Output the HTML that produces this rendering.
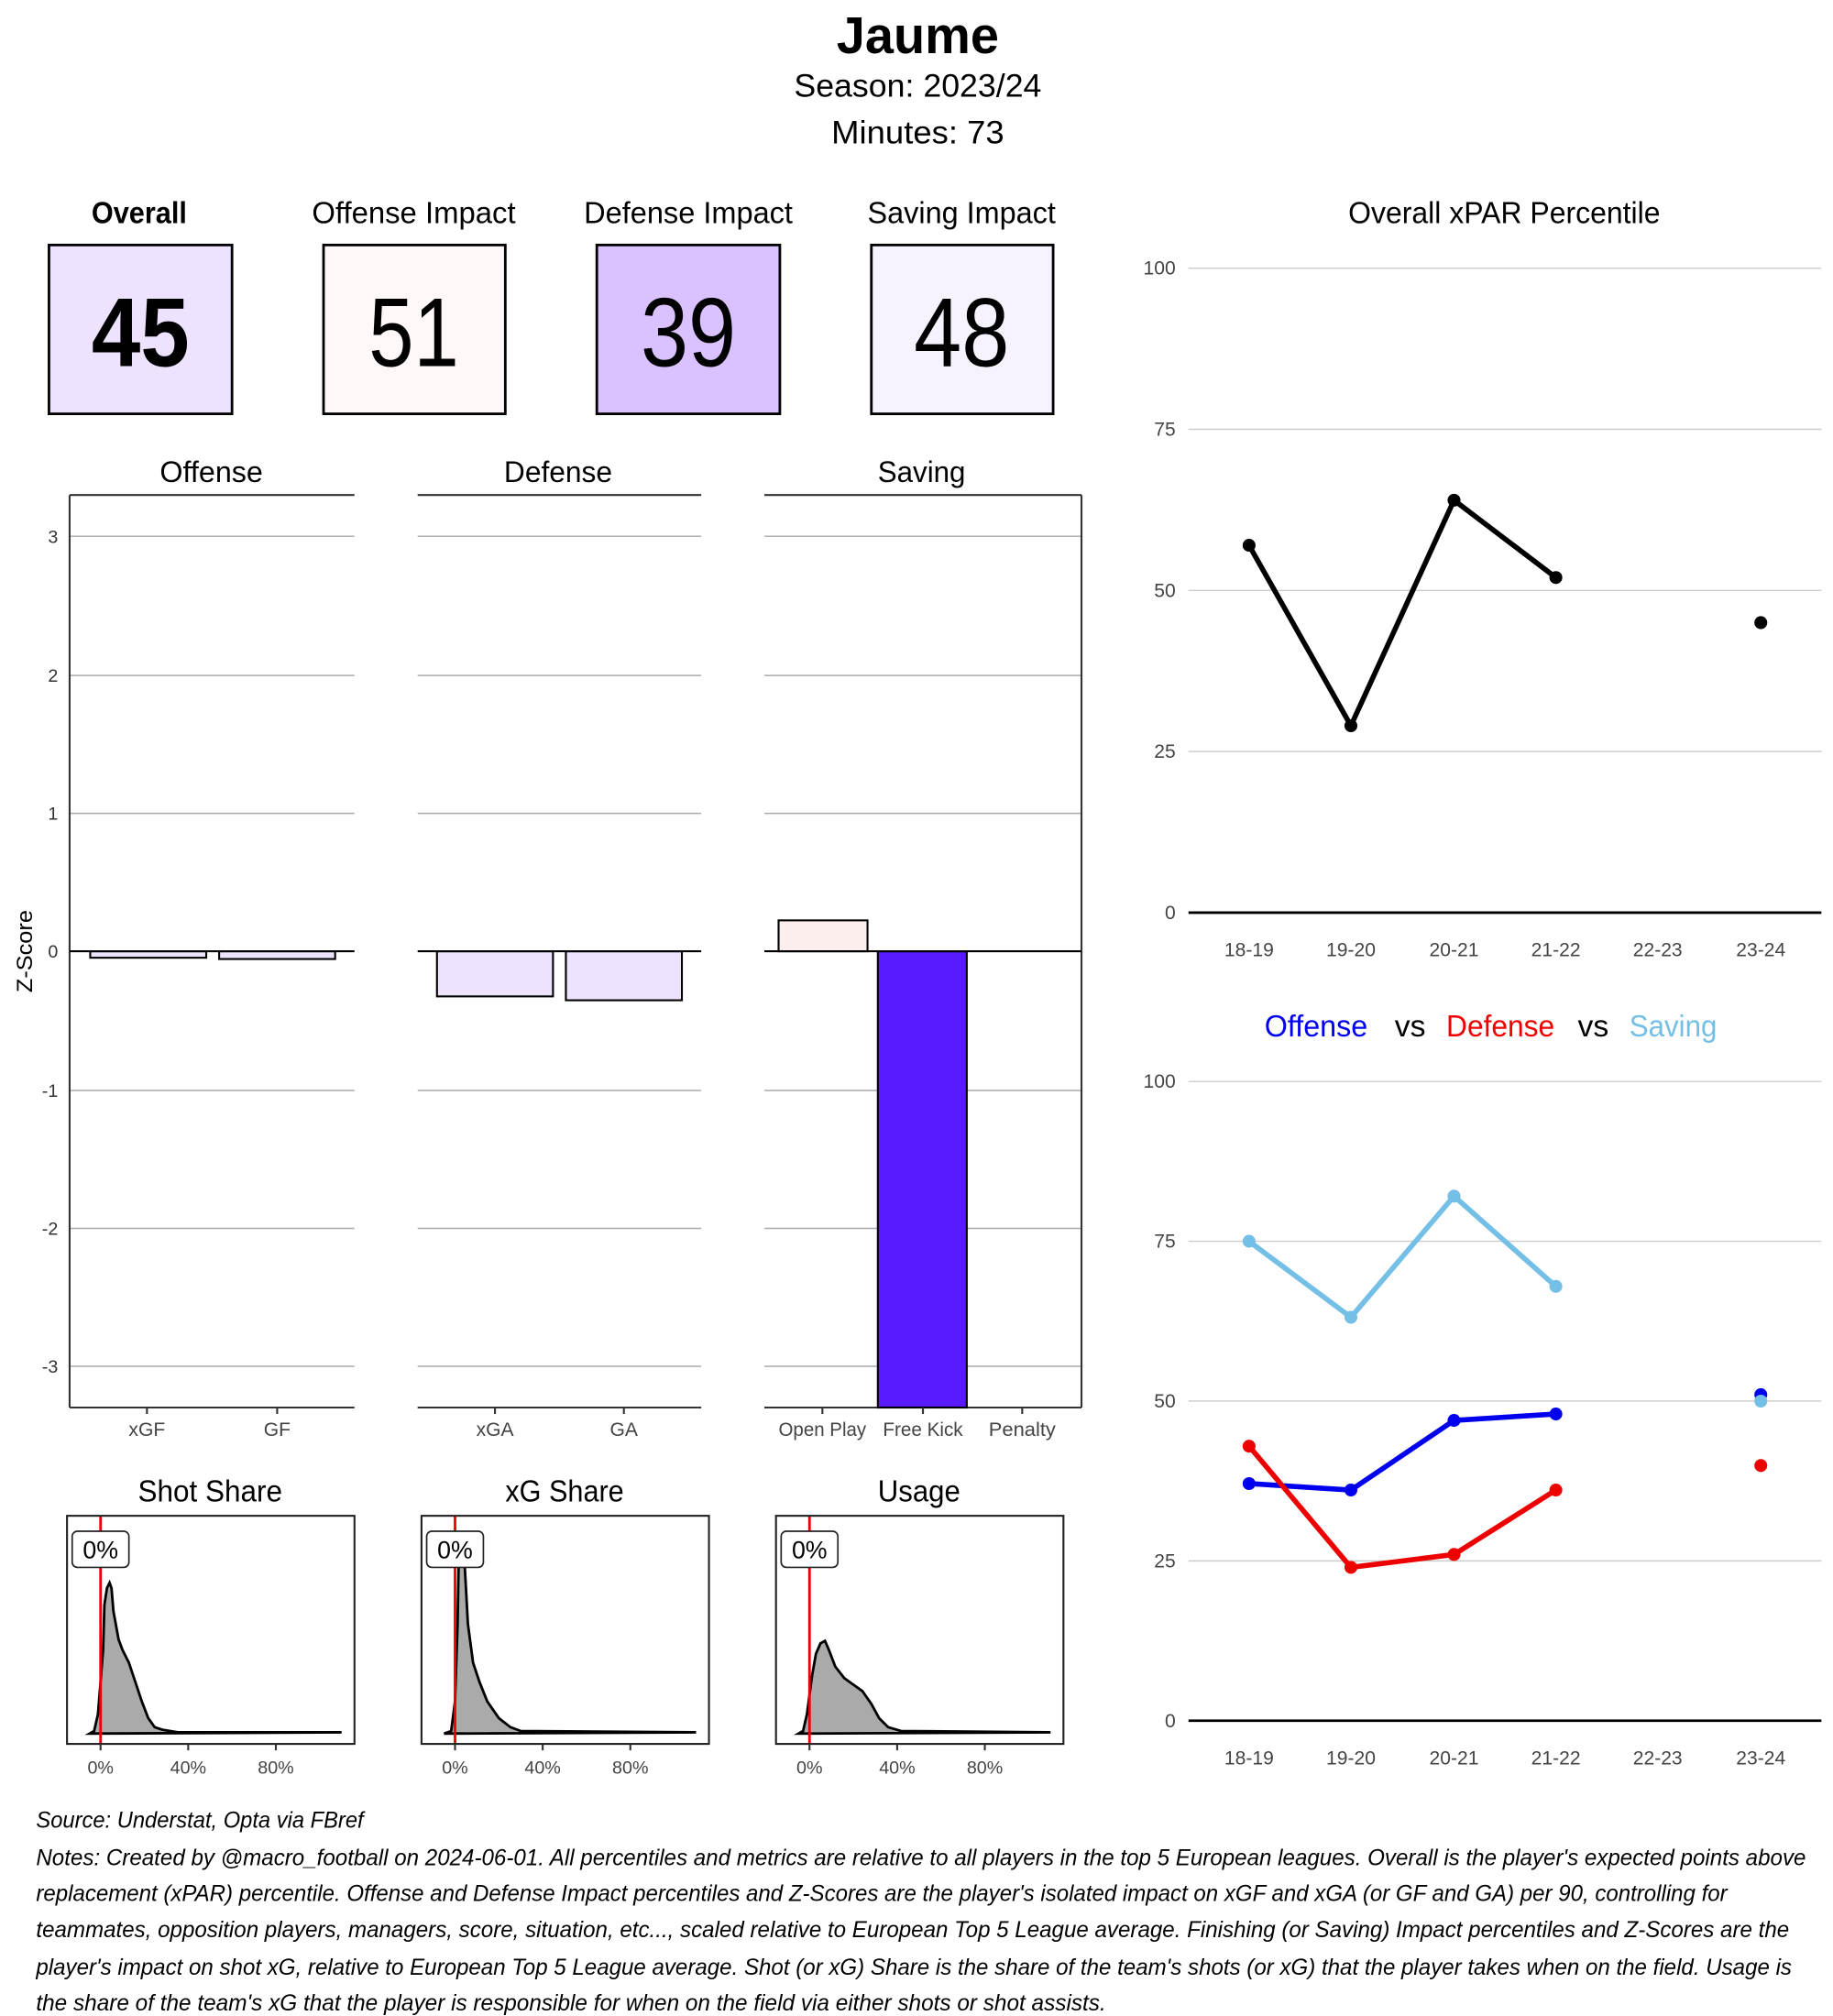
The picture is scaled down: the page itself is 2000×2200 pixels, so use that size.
<!DOCTYPE html>
<html><head><meta charset="utf-8"><style>
html,body{margin:0;padding:0;background:#fff;}
svg{display:block;font-family:"Liberation Sans",sans-serif;}
</style></head><body>
<svg width="2000" height="2200" viewBox="0 0 1422 1564" xmlns="http://www.w3.org/2000/svg">
<rect width="1422" height="1564" fill="#fff"/>
<text x="712" y="41" text-anchor="middle" font-size="40" font-weight="bold" textLength="126" lengthAdjust="spacingAndGlyphs">Jaume</text>
<text x="712" y="75" text-anchor="middle" font-size="25" textLength="192" lengthAdjust="spacingAndGlyphs">Season:  2023/24</text>
<text x="712" y="111" text-anchor="middle" font-size="25" textLength="134" lengthAdjust="spacingAndGlyphs">Minutes:  73</text>
<g font-size="24">
<text x="108" y="173" text-anchor="middle" font-weight="bold" textLength="74" lengthAdjust="spacingAndGlyphs">Overall</text>
<text x="321" y="173" text-anchor="middle" textLength="158" lengthAdjust="spacingAndGlyphs">Offense Impact</text>
<text x="534" y="173" text-anchor="middle" textLength="162" lengthAdjust="spacingAndGlyphs">Defense Impact</text>
<text x="746" y="173" text-anchor="middle" textLength="146" lengthAdjust="spacingAndGlyphs">Saving Impact</text>
</g>
<g stroke="#000" stroke-width="2">
<rect x="38" y="190" width="142" height="131" fill="#ede3ff"/>
<rect x="251" y="190" width="141" height="131" fill="#fff8f8"/>
<rect x="463" y="190" width="142" height="131" fill="#d9c2ff"/>
<rect x="676" y="190" width="141" height="131" fill="#f6f3ff"/>
</g>
<g font-size="76" text-anchor="middle">
<text x="109" y="284" font-weight="bold" textLength="76" lengthAdjust="spacingAndGlyphs">45</text>
<text x="321" y="284" textLength="70" lengthAdjust="spacingAndGlyphs">51</text>
<text x="534" y="284" textLength="74" lengthAdjust="spacingAndGlyphs">39</text>
<text x="746" y="284" textLength="74" lengthAdjust="spacingAndGlyphs">48</text>
</g>
<g font-size="23" text-anchor="middle">
<text x="164" y="374" textLength="80" lengthAdjust="spacingAndGlyphs">Offense</text>
<text x="433" y="374" textLength="84" lengthAdjust="spacingAndGlyphs">Defense</text>
<text x="715" y="374" textLength="68" lengthAdjust="spacingAndGlyphs">Saving</text>
</g>
<g stroke="#aaa" stroke-width="1">
<line x1="54" x2="275" y1="416" y2="416"/><line x1="324" x2="544" y1="416" y2="416"/><line x1="593" x2="839" y1="416" y2="416"/>
<line x1="54" x2="275" y1="524" y2="524"/><line x1="324" x2="544" y1="524" y2="524"/><line x1="593" x2="839" y1="524" y2="524"/>
<line x1="54" x2="275" y1="631" y2="631"/><line x1="324" x2="544" y1="631" y2="631"/><line x1="593" x2="839" y1="631" y2="631"/>
<line x1="54" x2="275" y1="846" y2="846"/><line x1="324" x2="544" y1="846" y2="846"/><line x1="593" x2="839" y1="846" y2="846"/>
<line x1="54" x2="275" y1="953" y2="953"/><line x1="324" x2="544" y1="953" y2="953"/><line x1="593" x2="839" y1="953" y2="953"/>
<line x1="54" x2="275" y1="1060" y2="1060"/><line x1="324" x2="544" y1="1060" y2="1060"/><line x1="593" x2="839" y1="1060" y2="1060"/>
</g>
<g stroke="#333" stroke-width="1.5">
<line x1="54" x2="275" y1="384" y2="384"/><line x1="324" x2="544" y1="384" y2="384"/><line x1="593" x2="839" y1="384" y2="384"/>
<line x1="54" x2="275" y1="1092" y2="1092"/><line x1="324" x2="544" y1="1092" y2="1092"/><line x1="593" x2="839" y1="1092" y2="1092"/>
<line x1="54" x2="54" y1="384" y2="1092"/><line x1="839" x2="839" y1="384" y2="1092"/>
</g>
<g stroke="#000" stroke-width="1.5">
<rect x="70" y="738" width="90" height="5" fill="#ede3ff"/>
<rect x="170" y="738" width="90" height="6" fill="#ede3ff"/>
<rect x="339" y="738" width="90" height="35" fill="#ede3ff"/>
<rect x="439" y="738" width="90" height="38" fill="#ede3ff"/>
<rect x="604" y="714" width="69" height="24" fill="#fdeeee"/>
<rect x="681" y="738" width="69" height="354" fill="#5a1aff"/>
</g>
<g stroke="#000" stroke-width="1.5">
<line x1="54" x2="275" y1="738" y2="738"/><line x1="324" x2="544" y1="738" y2="738"/><line x1="593" x2="839" y1="738" y2="738"/>
</g>
<g font-size="14" fill="#333" text-anchor="end">
<text x="45" y="421">3</text><text x="45" y="529">2</text><text x="45" y="636">1</text><text x="45" y="743">0</text>
<text x="45" y="851">-1</text><text x="45" y="958">-2</text><text x="45" y="1065">-3</text>
</g>
<text transform="translate(25,738) rotate(-90)" text-anchor="middle" font-size="17" textLength="64" lengthAdjust="spacingAndGlyphs">Z-Score</text>
<g stroke="#333" stroke-width="1.5">
<line x1="114" x2="114" y1="1092" y2="1097"/><line x1="215" x2="215" y1="1092" y2="1097"/>
<line x1="384" x2="384" y1="1092" y2="1097"/><line x1="484" x2="484" y1="1092" y2="1097"/>
<line x1="638" x2="638" y1="1092" y2="1097"/><line x1="716" x2="716" y1="1092" y2="1097"/><line x1="793" x2="793" y1="1092" y2="1097"/>
</g>
<g font-size="15" fill="#444" text-anchor="middle">
<text x="114" y="1114">xGF</text><text x="215" y="1114">GF</text>
<text x="384" y="1114">xGA</text><text x="484" y="1114">GA</text>
<text x="638" y="1114" textLength="68" lengthAdjust="spacingAndGlyphs">Open Play</text>
<text x="716" y="1114" textLength="62" lengthAdjust="spacingAndGlyphs">Free Kick</text>
<text x="793" y="1114" textLength="52" lengthAdjust="spacingAndGlyphs">Penalty</text>
</g>
<g font-size="24" text-anchor="middle">
<text x="163" y="1165" textLength="112" lengthAdjust="spacingAndGlyphs">Shot Share</text>
<text x="438" y="1165" textLength="92" lengthAdjust="spacingAndGlyphs">xG Share</text>
<text x="713" y="1165" textLength="64" lengthAdjust="spacingAndGlyphs">Usage</text>
</g>
<path d="M69.5,1345 L73,1343 L76,1330 L80,1280 L81,1245 L83,1232 L85,1228 L86.5,1232 L88,1250 L92,1272 L95,1280 L100,1290 L105,1305 L110,1320 L115,1333 L120,1340 L126,1342 L138,1344 L265,1344 Z" fill="#aaa" stroke="#000" stroke-width="2"/>
<path d="M344.5,1345 L350,1343 L353,1320 L355,1260 L356,1200 L358,1190 L360,1205 L363,1260 L367,1290 L372,1305 L378,1320 L387,1333 L396,1340 L404,1343 L540,1344 Z" fill="#aaa" stroke="#000" stroke-width="2"/>
<path d="M619.5,1345 L623,1343 L626,1330 L630,1300 L633,1283 L636.5,1275 L640,1273 L643,1280 L648,1293 L655,1302 L662,1307 L669,1312 L676,1322 L682,1333 L689,1340 L699,1343 L815,1344 Z" fill="#aaa" stroke="#000" stroke-width="2"/>
<g stroke="#e00" stroke-width="2">
<line x1="78" x2="78" y1="1176" y2="1353"/><line x1="353" x2="353" y1="1176" y2="1353"/><line x1="628" x2="628" y1="1176" y2="1353"/>
</g>
<g fill="none" stroke="#222" stroke-width="1.5">
<rect x="52" y="1176" width="223" height="177"/><rect x="327" y="1176" width="223" height="177"/><rect x="602" y="1176" width="223" height="177"/>
</g>
<g fill="#fff" stroke="#222" stroke-width="1.2">
<rect x="56" y="1188" width="44" height="28" rx="4"/><rect x="331" y="1188" width="44" height="28" rx="4"/><rect x="606" y="1188" width="44" height="28" rx="4"/>
</g>
<g font-size="19" text-anchor="middle">
<text x="78" y="1209">0%</text><text x="353" y="1209">0%</text><text x="628" y="1209">0%</text>
</g>
<g stroke="#333" stroke-width="1.5">
<line x1="78" x2="78" y1="1353" y2="1358"/><line x1="146" x2="146" y1="1353" y2="1358"/><line x1="214" x2="214" y1="1353" y2="1358"/>
<line x1="353" x2="353" y1="1353" y2="1358"/><line x1="421" x2="421" y1="1353" y2="1358"/><line x1="489" x2="489" y1="1353" y2="1358"/>
<line x1="628" x2="628" y1="1353" y2="1358"/><line x1="696" x2="696" y1="1353" y2="1358"/><line x1="764" x2="764" y1="1353" y2="1358"/>
</g>
<g font-size="14" fill="#444" text-anchor="middle">
<text x="78" y="1376">0%</text><text x="146" y="1376">40%</text><text x="214" y="1376">80%</text>
<text x="353" y="1376">0%</text><text x="421" y="1376">40%</text><text x="489" y="1376">80%</text>
<text x="628" y="1376">0%</text><text x="696" y="1376">40%</text><text x="764" y="1376">80%</text>
</g>
<text x="1167" y="173" text-anchor="middle" font-size="24" textLength="242" lengthAdjust="spacingAndGlyphs">Overall xPAR Percentile</text>
<g stroke="#ccc" stroke-width="1">
<line x1="922" x2="1413" y1="208" y2="208"/><line x1="922" x2="1413" y1="333" y2="333"/><line x1="922" x2="1413" y1="458" y2="458"/><line x1="922" x2="1413" y1="583" y2="583"/>
</g>
<line x1="922" x2="1413" y1="708" y2="708" stroke="#000" stroke-width="2"/>
<g font-size="15" fill="#444" text-anchor="end">
<text x="912" y="213">100</text><text x="912" y="338">75</text><text x="912" y="463">50</text><text x="912" y="588">25</text><text x="912" y="713">0</text>
</g>
<g font-size="15" fill="#444" text-anchor="middle">
<text x="969" y="742">18-19</text><text x="1048" y="742">19-20</text><text x="1128" y="742">20-21</text><text x="1207" y="742">21-22</text><text x="1286" y="742">22-23</text><text x="1366" y="742">23-24</text>
</g>
<polyline points="969,423 1048,563 1128,388 1207,448" fill="none" stroke="#000" stroke-width="4" stroke-linejoin="round"/>
<g fill="#000"><circle cx="969" cy="423" r="5"/><circle cx="1048" cy="563" r="5"/><circle cx="1128" cy="388" r="5"/><circle cx="1207" cy="448" r="5"/><circle cx="1366" cy="483" r="5"/></g>
<g font-size="24" text-anchor="middle">
<text x="1021" y="804" fill="#0000ee" textLength="80" lengthAdjust="spacingAndGlyphs">Offense</text>
<text x="1094" y="804">vs</text>
<text x="1164" y="804" fill="#ee0000" textLength="84" lengthAdjust="spacingAndGlyphs">Defense</text>
<text x="1236" y="804">vs</text>
<text x="1298" y="804" fill="#74bfe6" textLength="68" lengthAdjust="spacingAndGlyphs">Saving</text>
</g>
<g stroke="#ccc" stroke-width="1">
<line x1="922" x2="1413" y1="839" y2="839"/><line x1="922" x2="1413" y1="963" y2="963"/><line x1="922" x2="1413" y1="1087" y2="1087"/><line x1="922" x2="1413" y1="1211" y2="1211"/>
</g>
<line x1="922" x2="1413" y1="1335" y2="1335" stroke="#000" stroke-width="2"/>
<g font-size="15" fill="#444" text-anchor="end">
<text x="912" y="844">100</text><text x="912" y="968">75</text><text x="912" y="1092">50</text><text x="912" y="1216">25</text><text x="912" y="1340">0</text>
</g>
<g font-size="15" fill="#444" text-anchor="middle">
<text x="969" y="1369">18-19</text><text x="1048" y="1369">19-20</text><text x="1128" y="1369">20-21</text><text x="1207" y="1369">21-22</text><text x="1286" y="1369">22-23</text><text x="1366" y="1369">23-24</text>
</g>
<g fill="none" stroke-width="4" stroke-linejoin="round">
<polyline points="969,963 1048,1022 1128,928 1207,998" stroke="#74bfe6"/>
<polyline points="969,1151 1048,1156 1128,1102 1207,1097" stroke="#0000ee"/>
<polyline points="969,1122 1048,1216 1128,1206 1207,1156" stroke="#ee0000"/>
</g>
<g fill="#74bfe6"><circle cx="969" cy="963" r="5"/><circle cx="1048" cy="1022" r="5"/><circle cx="1128" cy="928" r="5"/><circle cx="1207" cy="998" r="5"/></g>
<g fill="#0000ee"><circle cx="969" cy="1151" r="5"/><circle cx="1048" cy="1156" r="5"/><circle cx="1128" cy="1102" r="5"/><circle cx="1207" cy="1097" r="5"/><circle cx="1366" cy="1082" r="5"/></g>
<circle cx="1366" cy="1087" r="5" fill="#74bfe6"/>
<g fill="#ee0000"><circle cx="969" cy="1122" r="5"/><circle cx="1048" cy="1216" r="5"/><circle cx="1128" cy="1206" r="5"/><circle cx="1207" cy="1156" r="5"/><circle cx="1366" cy="1137" r="5"/></g>
<g font-size="18" font-style="italic">
<text x="28" y="1418" textLength="254" lengthAdjust="spacingAndGlyphs">Source: Understat, Opta via FBref</text>
<text x="28" y="1447" textLength="1373" lengthAdjust="spacingAndGlyphs">Notes: Created by @macro_football on 2024-06-01. All percentiles and metrics are relative to all players in the top 5 European leagues. Overall is the player's expected points above</text>
<text x="28" y="1475" textLength="1312" lengthAdjust="spacingAndGlyphs">replacement (xPAR) percentile. Offense and Defense Impact percentiles and Z-Scores are the player's isolated impact on xGF and xGA (or GF and GA) per 90, controlling for</text>
<text x="28" y="1503" textLength="1360" lengthAdjust="spacingAndGlyphs">teammates, opposition players, managers, score, situation, etc..., scaled relative to European Top 5 League average. Finishing (or Saving) Impact percentiles and Z-Scores are the</text>
<text x="28" y="1532" textLength="1362" lengthAdjust="spacingAndGlyphs">player's impact on shot xG, relative to European Top 5 League average. Shot (or xG) Share is the share of the team's shots (or xG) that the player takes when on the field. Usage is</text>
<text x="28" y="1560" textLength="830" lengthAdjust="spacingAndGlyphs">the share of the team's xG that the player is responsible for when on the field via either shots or shot assists.</text>
</g>
</svg>
</body></html>
